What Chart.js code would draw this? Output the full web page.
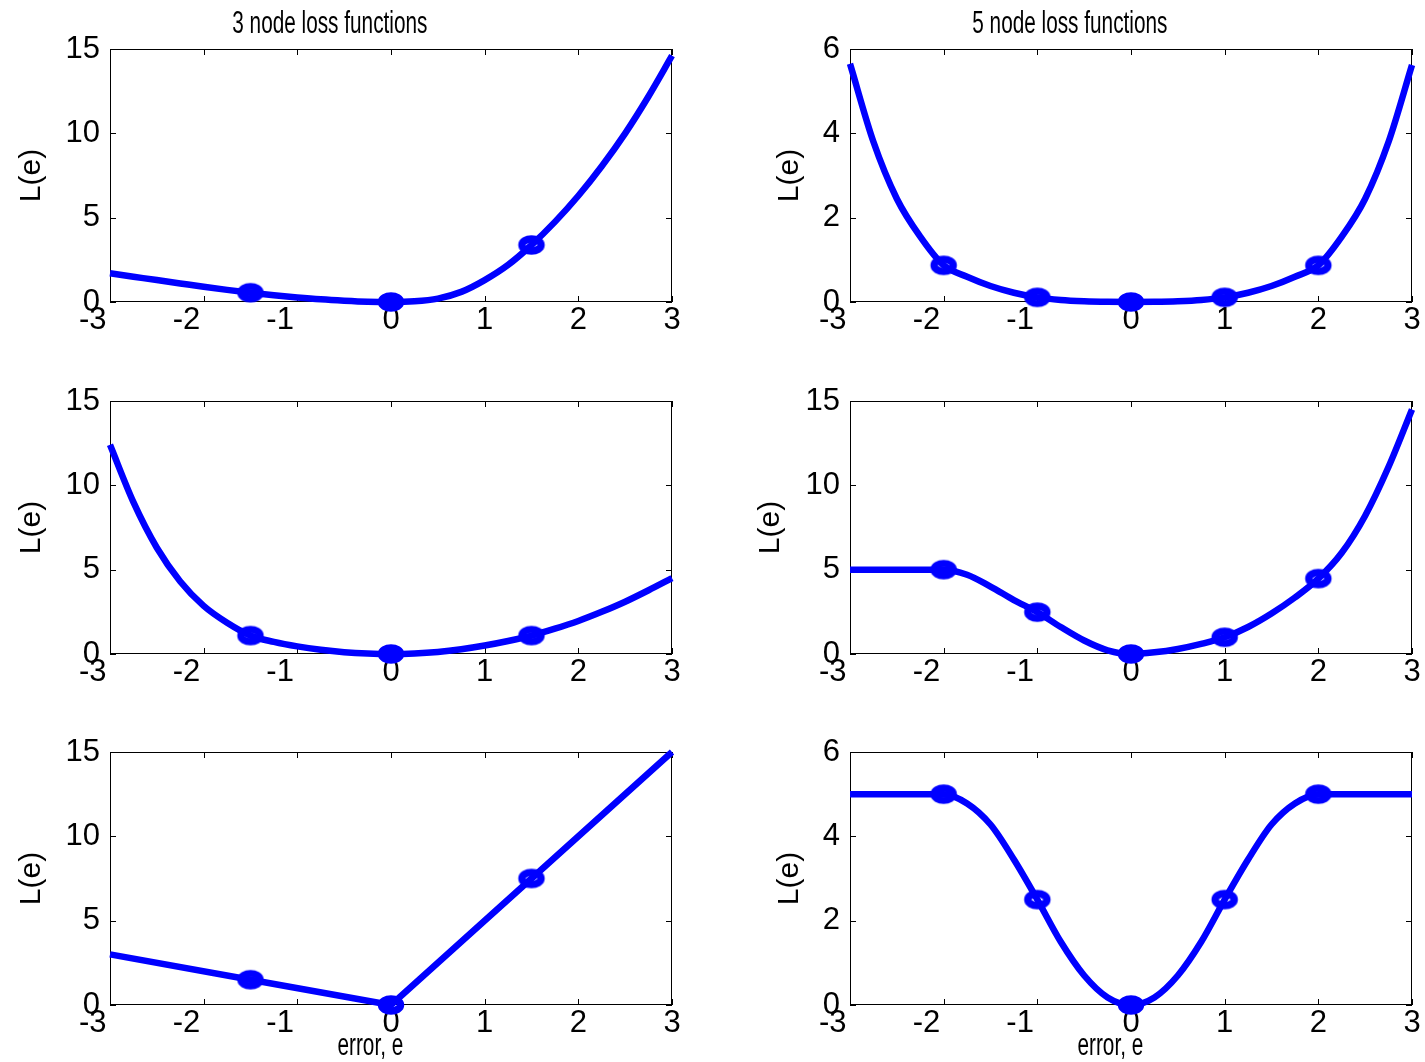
<!DOCTYPE html>
<html>
<head>
<meta charset="utf-8">
<script src="https://cdn.jsdelivr.net/npm/chart.js@4.4.0/dist/chart.umd.min.js"></script>
<style>
  html, body { margin: 0; padding: 0; background: #fff; }
  body { position: relative; width: 1425px; height: 1062px; overflow: hidden; }
  canvas { position: absolute; }
</style>
</head>
<body>
<canvas id="c1"></canvas>
<canvas id="c2"></canvas>
<canvas id="c3"></canvas>
<canvas id="c4"></canvas>
<canvas id="c5"></canvas>
<canvas id="c6"></canvas>
<script>
// error axis samples shared by the smooth curves
const E = [-3, -2.75, -2.5, -2.25, -2, -1.75, -1.5, -1.25, -1, -0.75, -0.5, -0.25, 0,
           0.25, 0.5, 0.75, 1, 1.25, 1.5, 1.75, 2, 2.25, 2.5, 2.75, 3];

// 3 node, row 1
const L3a = [1.70, 1.50, 1.30, 1.10, 0.90, 0.72, 0.55, 0.40, 0.27, 0.16, 0.08, 0.02, 0,
             0.04, 0.20, 0.60, 1.30, 2.20, 3.38, 4.75, 6.30, 8.05, 10.0, 12.2, 14.6];
const N3a_x = [-1.5, 0, 1.5];
const N3a_y = [0.55, 0, 3.38];

// 5 node, row 1
const L5a = [5.65, 3.80, 2.45, 1.55, 0.87, 0.60, 0.38, 0.22, 0.11, 0.05, 0.02, 0.005, 0,
             0.005, 0.02, 0.05, 0.11, 0.22, 0.38, 0.60, 0.87, 1.55, 2.45, 3.80, 5.62];
const N5a_x = [-2, -1, 0, 1, 2];
const N5a_y = [0.87, 0.11, 0, 0.11, 0.87];

// 3 node, row 2
const L3b = [12.4, 9.0, 6.3, 4.3, 2.85, 1.85, 1.09, 0.72, 0.45, 0.25, 0.11, 0.03, 0,
             0.03, 0.12, 0.28, 0.50, 0.77, 1.09, 1.50, 1.96, 2.50, 3.10, 3.78, 4.5];
const N3b_x = [-1.5, 0, 1.5];
const N3b_y = [1.09, 0, 1.09];

// 5 node, row 2
const L5b = [5, 5, 5, 5, 5, 4.7, 4.0, 3.2, 2.48, 1.6, 0.8, 0.22, 0,
             0.1, 0.3, 0.6, 0.99, 1.6, 2.4, 3.35, 4.47, 6.0, 8.2, 11.1, 14.5];
const N5b_x = [-2, -1, 0, 1, 2];
const N5b_y = [5, 2.48, 0, 0.99, 4.47];

// 3 node, row 3 (piecewise linear)
const E3c = [-3, -1.5, 0, 1.5, 3];
const L3c = [3, 1.5, 0, 7.5, 15];
const N3c_x = [-1.5, 0, 1.5];
const N3c_y = [1.5, 0, 7.5];

// 5 node, row 3
const L5c = [5, 5, 5, 5, 5, 4.78, 4.28, 3.45, 2.5, 1.5, 0.7, 0.18, 0,
             0.18, 0.7, 1.5, 2.5, 3.45, 4.28, 4.78, 5, 5, 5, 5, 5];
const N5c_x = [-2, -1, 0, 1, 2];
const N5c_y = [5, 2.5, 0, 2.5, 5];

const X_TICKS = [-3, -2, -1, 0, 1, 2, 3];
const Y15 = [0, 5, 10, 15];
const Y6 = [0, 2, 4, 6];

const BLUE = '#0000ff';
const NARROW = '"Liberation Sans Narrow", "Liberation Sans", Arial, sans-serif';
const SANS = '"Liberation Sans", Arial, sans-serif';

function ringMarker() {
  const c = document.createElement('canvas');
  c.width = 30; c.height = 22;
  const g = c.getContext('2d');
  g.strokeStyle = BLUE; g.lineWidth = 7.5;
  g.beginPath(); g.ellipse(15, 11, 9.5, 6, 0, 0, 2 * Math.PI); g.stroke();
  return c;
}
const marker = ringMarker();

// box round the plot, with small inward ticks on all four sides
const frame = {
  id: 'frame',
  beforeDatasetsDraw(chart) {
    const { ctx, chartArea: a, scales: { x, y } } = chart;
    ctx.save();
    ctx.strokeStyle = '#000'; ctx.lineWidth = 1;
    ctx.strokeRect(a.left + 0.5, a.top + 0.5, a.width - 1, a.height - 1);
    ctx.beginPath();
    x.ticks.forEach((t) => {
      const px = Math.round(x.getPixelForValue(t.value)) + 0.5;
      ctx.moveTo(px, a.bottom); ctx.lineTo(px, a.bottom - 6);
      ctx.moveTo(px, a.top); ctx.lineTo(px, a.top + 6);
    });
    y.ticks.forEach((t) => {
      const py = Math.round(y.getPixelForValue(t.value)) + 0.5;
      ctx.moveTo(a.left, py); ctx.lineTo(a.left + 6, py);
      ctx.moveTo(a.right, py); ctx.lineTo(a.right - 6, py);
    });
    ctx.stroke();
    ctx.restore();
  },
};

// squeezed title / x label, like the original figure export
const squeeze = {
  id: 'squeeze',
  afterDraw(chart, args, opts) {
    const { ctx, chartArea: a } = chart;
    const cx = (a.left + a.right) / 2;
    ctx.save();
    ctx.fillStyle = '#000';
    ctx.font = '31px ' + SANS;
    ctx.textBaseline = 'middle';
    const put = (txt, y) => {
      const w = ctx.measureText(txt).width;
      ctx.save();
      ctx.translate(cx - w / 2 - w * 0.045, y);
      ctx.scale(0.67, 1);
      ctx.fillText(txt, 0, 0);
      ctx.restore();
    };
    if (opts.title) put(opts.title, a.top - 25);
    if (opts.xlabel) put(opts.xlabel, a.bottom + 41);
    ctx.restore();
  },
};

const pts = (xs, ys) => xs.map((v, i) => ({ x: v, y: ys[i] }));

function panel(id, pos, curveX, curveY, nx, ny, yTicks, opts) {
  const cv = document.getElementById(id);
  cv.width = pos.w; cv.height = pos.h;
  cv.style.left = pos.left + 'px'; cv.style.top = pos.top + 'px';
  const plotH = 253;
  new Chart(cv, {
    type: 'scatter',
    data: {
      datasets: [
        { data: pts(curveX, curveY), showLine: true, borderColor: BLUE, borderWidth: 6.5,
          pointRadius: 0, cubicInterpolationMode: opts.linear ? 'default' : 'monotone',
          tension: 0, clip: false, order: 2 },
        { data: pts(nx, ny), showLine: false, pointStyle: marker, pointRadius: 12,
          clip: false, order: 1 },
      ],
    },
    options: {
      responsive: false, animation: false, events: [],
      layout: { padding: { top: 49, left: 0, right: pos.w - 110 - 562, bottom: 0 } },
      plugins: { legend: { display: false }, tooltip: { enabled: false },
        squeeze: { title: opts.title, xlabel: opts.xlabel } },
      scales: {
        x: {
          type: 'linear', min: -3, max: 3,
          afterBuildTicks: (s) => { s.ticks = X_TICKS.map((v) => ({ value: v })); },
          afterFit: (s) => { s.height = pos.h - 49 - plotH; },
          grid: { display: false, drawTicks: false }, border: { display: false },
          ticks: { color: '#000', font: { family: NARROW, size: 31 }, padding: 0,
            maxRotation: 0, autoSkip: false,
            callback: (v) => (v < 0 ? v + '\u00a0\u00a0\u00a0\u00a0' : '' + v) },
        },
        y: {
          type: 'linear', min: 0, max: yTicks[yTicks.length - 1],
          afterBuildTicks: (s) => { s.ticks = yTicks.map((v) => ({ value: v })); },
          afterFit: (s) => { s.width = 110; },
          grid: { display: false, drawTicks: false }, border: { display: false },
          title: { display: true, text: 'L(e)', color: '#000',
            font: { family: SANS, size: 30 }, padding: { top: opts.yPad, bottom: 0 } },
          ticks: { color: '#000', font: { family: NARROW, size: 31 }, padding: 10, autoSkip: false },
        },
      },
    },
    plugins: [frame, squeeze],
  });
}

const colL = 0, colR = 740;
const rows = [{ top: 0, h: 347 }, { top: 352, h: 347 }, { top: 703, h: 359 }];

panel('c1', { left: colL, top: rows[0].top, w: 690, h: rows[0].h }, E, L3a, N3a_x, N3a_y, Y15,
  { title: '3 node loss functions', yPad: 14 });
panel('c2', { left: colR, top: rows[0].top, w: 685, h: rows[0].h }, E, L5a, N5a_x, N5a_y, Y6,
  { title: '5 node loss functions', yPad: 32 });
panel('c3', { left: colL, top: rows[1].top, w: 690, h: rows[1].h }, E, L3b, N3b_x, N3b_y, Y15,
  { yPad: 14 });
panel('c4', { left: colR, top: rows[1].top, w: 685, h: rows[1].h }, E, L5b, N5b_x, N5b_y, Y15,
  { yPad: 13 });
panel('c5', { left: colL, top: rows[2].top, w: 690, h: rows[2].h }, E3c, L3c, N3c_x, N3c_y, Y15,
  { xlabel: 'error, e', yPad: 14, linear: true });
panel('c6', { left: colR, top: rows[2].top, w: 685, h: rows[2].h }, E, L5c, N5c_x, N5c_y, Y6,
  { xlabel: 'error, e', yPad: 32 });
</script>
</body>
</html>
